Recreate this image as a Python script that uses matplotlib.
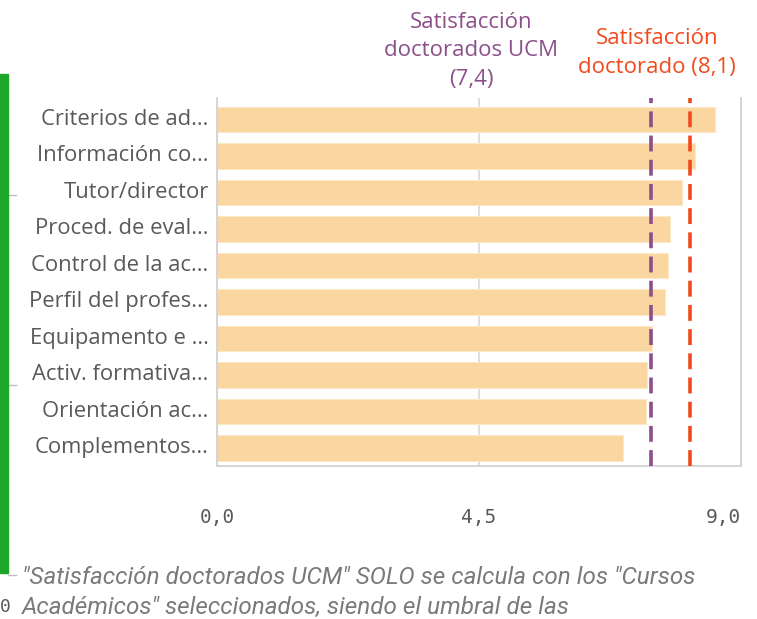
import matplotlib
matplotlib.use("Agg")
import matplotlib.pyplot as plt
import matplotlib.transforms as mtransforms
from matplotlib.lines import Line2D

categories = ["Criterios de ad...", "Información co...", "Tutor/director", "Proced. de eval...",
              "Control de la ac...", "Perfil del profes...", "Equipamento e ...",
              "Activ. formativa...", "Orientación ac...", "Complementos..."]
values = [8.55, 8.21, 7.98, 7.78, 7.74, 7.70, 7.47, 7.39, 7.37, 6.97]
ref_ucm = 7.45
ref_doct = 8.13
ref_ucm_label = "Satisfacción\ndoctorados UCM\n(7,4)"
ref_doct_label = "Satisfacción\ndoctorado (8,1)"
xticks = [0.0, 4.5, 9.0]
xticklabels = ["0,0", "4,5", "9,0"]
footnote = ['"Satisfacción doctorados UCM" SOLO se calcula con los "Cursos',
            'Académicos" seleccionados, siendo el umbral de las']

W, H = 757, 619
fig = plt.figure(figsize=(W / 100, H / 100), dpi=100)
ax = fig.add_axes([217 / W, 1 - 466 / H, (741 - 217) / W, (466 - 98) / H])

purple = "#8c4f8a"
red = "#f24a1d"
gray_txt = "#595959"

ypos = list(range(len(categories)))
ax.barh(ypos, values, height=0.70, color="#fad6a0", edgecolor="#fde8c8", linewidth=0.8, zorder=2)
ax.set_xlim(0, 9.0)
ax.set_ylim(9.49, -0.59)
ax.set_yticks(ypos)
ax.set_yticklabels(categories, fontsize=15.8, color=gray_txt, family=["Open Sans", "DejaVu Sans"])
ax.set_xticks(xticks)
ax.set_xticklabels(xticklabels, fontsize=14, color=gray_txt, family="DejaVu Sans Mono")
ax.get_xticklabels()[-1].set_ha("right")
ax.tick_params(axis="y", length=0, pad=6)
ax.tick_params(axis="x", length=0, pad=30)
shift = mtransforms.ScaledTranslation(0, 3 / 100, fig.dpi_scale_trans)
for lab in ax.get_yticklabels():
    lab.set_va("center_baseline")
    lab.set_transform(lab.get_transform() + shift)
ax.grid(axis="x", color="#d9d9d9", linewidth=1.2, zorder=0)
for s in ["left", "right", "bottom"]:
    ax.spines[s].set_color("#d0d0d0")
    ax.spines[s].set_linewidth(1.2)
ax.spines["top"].set_visible(False)

ax.axvline(ref_ucm, color=purple, lw=2.6, linestyle=(0, (4.4, 2.3)), zorder=3)
ax.axvline(ref_doct, color=red, lw=2.6, linestyle=(0, (4.4, 2.3)), zorder=3)

ax.annotate(ref_ucm_label, xy=(ref_ucm, -0.59), xycoords="data", xytext=(471 / W, 1 - 51 / H),
            textcoords="figure fraction", ha="center", va="center", fontsize=16, color=purple,
            family="Open Sans", linespacing=1.45)
ax.annotate(ref_doct_label, xy=(ref_doct, -0.59), xycoords="data", xytext=(657 / W, 1 - 53 / H),
            textcoords="figure fraction", ha="center", va="center", fontsize=16, color=red,
            family="Open Sans", linespacing=1.45)

# left decoration
fig.patches.append(plt.Rectangle((0, 1 - 573 / H), 8 / W, (573 - 74) / H, transform=fig.transFigure,
                                 color="#1ea62a", zorder=5))
for yy in [195, 385, 575]:
    fig.lines.append(Line2D([8 / W, 16 / W], [1 - yy / H, 1 - yy / H], transform=fig.transFigure,
                            color="#bfbfbf", lw=1))

fig.text(22 / W, 1 - 577 / H, footnote[0], fontsize=17.5, style="italic", color="#7a7a7a",
         family="Roboto", va="center", ha="left")
fig.text(22 / W, 1 - 607 / H, footnote[1], fontsize=17.5, style="italic", color="#7a7a7a",
         family="Roboto", va="center", ha="left")
fig.text(0, 1 - 607 / H, "0", fontsize=13, color=gray_txt, family="DejaVu Sans Mono",
         va="center", ha="left")

fig.savefig("out.png", dpi=100)
